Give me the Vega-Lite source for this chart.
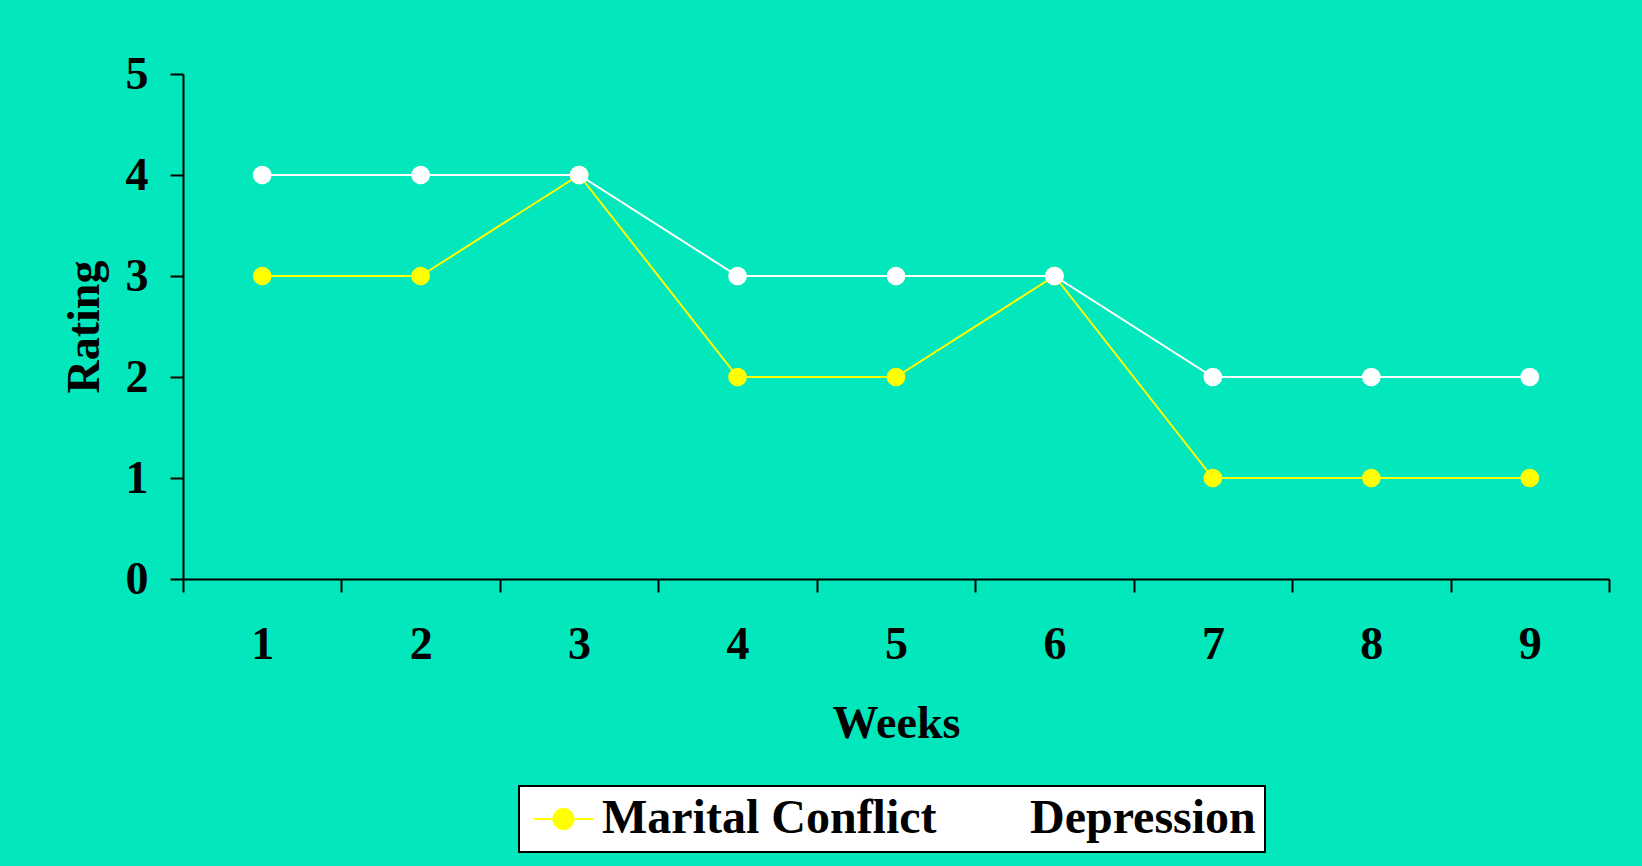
{
  "$schema": "https://vega.github.io/schema/vega-lite/v6.json",
  "width": 1426,
  "height": 505,
  "autosize": "none",
  "padding": {"left": 183, "top": 74, "right": 33, "bottom": 287},
  "background": "#02E7BB",
  "config": {
    "view": {"stroke": null},
    "font": "Liberation Serif"
  },
  "data": {
    "values": [
      {"week": "1", "series": "Marital Conflict", "rating": 3},
      {"week": "2", "series": "Marital Conflict", "rating": 3},
      {"week": "3", "series": "Marital Conflict", "rating": 4},
      {"week": "4", "series": "Marital Conflict", "rating": 2},
      {"week": "5", "series": "Marital Conflict", "rating": 2},
      {"week": "6", "series": "Marital Conflict", "rating": 3},
      {"week": "7", "series": "Marital Conflict", "rating": 1},
      {"week": "8", "series": "Marital Conflict", "rating": 1},
      {"week": "9", "series": "Marital Conflict", "rating": 1},
      {"week": "1", "series": "Depression", "rating": 4},
      {"week": "2", "series": "Depression", "rating": 4},
      {"week": "3", "series": "Depression", "rating": 4},
      {"week": "4", "series": "Depression", "rating": 3},
      {"week": "5", "series": "Depression", "rating": 3},
      {"week": "6", "series": "Depression", "rating": 3},
      {"week": "7", "series": "Depression", "rating": 2},
      {"week": "8", "series": "Depression", "rating": 2},
      {"week": "9", "series": "Depression", "rating": 2}
    ]
  },
  "encoding": {
    "x": {
      "field": "week",
      "type": "ordinal",
      "sort": ["1","2","3","4","5","6","7","8","9"],
      "scale": {"type": "band", "paddingInner": 0, "paddingOuter": 0},
      "axis": {
        "title": "Weeks",
        "tickBand": "extent",
        "labelAngle": 0,
        "labelFont": "Liberation Serif",
        "labelFontWeight": "bold",
        "labelFontSize": 46,
        "labelColor": "black",
        "labelPadding": 30,
        "tickSize": 13,
        "tickWidth": 2,
        "tickColor": "black",
        "domainColor": "black",
        "domainWidth": 2,
        "titleFont": "Liberation Serif",
        "titleFontWeight": "bold",
        "titleFontSize": 46,
        "titleColor": "black",
        "titleBaseline": "alphabetic",
        "titleY": 158
      }
    },
    "y": {
      "field": "rating",
      "type": "quantitative",
      "scale": {"domain": [0, 5], "nice": false, "zero": true},
      "axis": {
        "title": "Rating",
        "values": [0, 1, 2, 3, 4, 5],
        "grid": false,
        "labelFont": "Liberation Serif",
        "labelFontWeight": "bold",
        "labelFontSize": 46,
        "labelColor": "black",
        "labelPadding": 22,
        "tickSize": 13,
        "tickWidth": 2,
        "tickColor": "black",
        "domainColor": "black",
        "domainWidth": 2,
        "titleFont": "Liberation Serif",
        "titleFontWeight": "bold",
        "titleFontSize": 46,
        "titleColor": "black",
        "titleBaseline": "alphabetic",
        "titleX": -85
      }
    },
    "color": {
      "field": "series",
      "type": "nominal",
      "sort": ["Marital Conflict", "Depression"],
      "scale": {"domain": ["Marital Conflict", "Depression"], "range": ["#FFFF00", "#FFFFFF"]},
      "legend": {
        "title": null,
        "orient": "none",
        "direction": "horizontal",
        "legendX": 336,
        "legendY": 712,
        "padding": 9,
        "clipHeight": 48,
        "fillColor": "white",
        "strokeColor": "black",
        "symbolType": "M -1 0 L 1 0 M -0.34 0 A 0.34 0.34 0 1 1 0.34 0 A 0.34 0.34 0 1 1 -0.34 0 Z",
        "symbolSize": 3481,
        "symbolOffset": 5,
        "symbolOpacity": 1,
        "labelFont": "Liberation Serif",
        "labelFontWeight": "bold",
        "labelFontSize": 48,
        "labelColor": "black",
        "labelOffset": 8,
        "columnPadding": 19,
        "labelLimit": 600,
        "encode": {
          "symbols": {"update": {"fill": {"scale": "color", "field": "value"}, "stroke": {"scale": "color", "field": "value"}, "strokeWidth": {"value": 2}}},
          "legend": {"update": {"strokeWidth": {"value": 2}}}
        }
      }
    }
  },
  "layer": [
    {
      "mark": {"type": "line", "strokeWidth": 2}
    },
    {
      "mark": {"type": "point", "filled": true, "opacity": 1, "size": 350}
    }
  ]
}
